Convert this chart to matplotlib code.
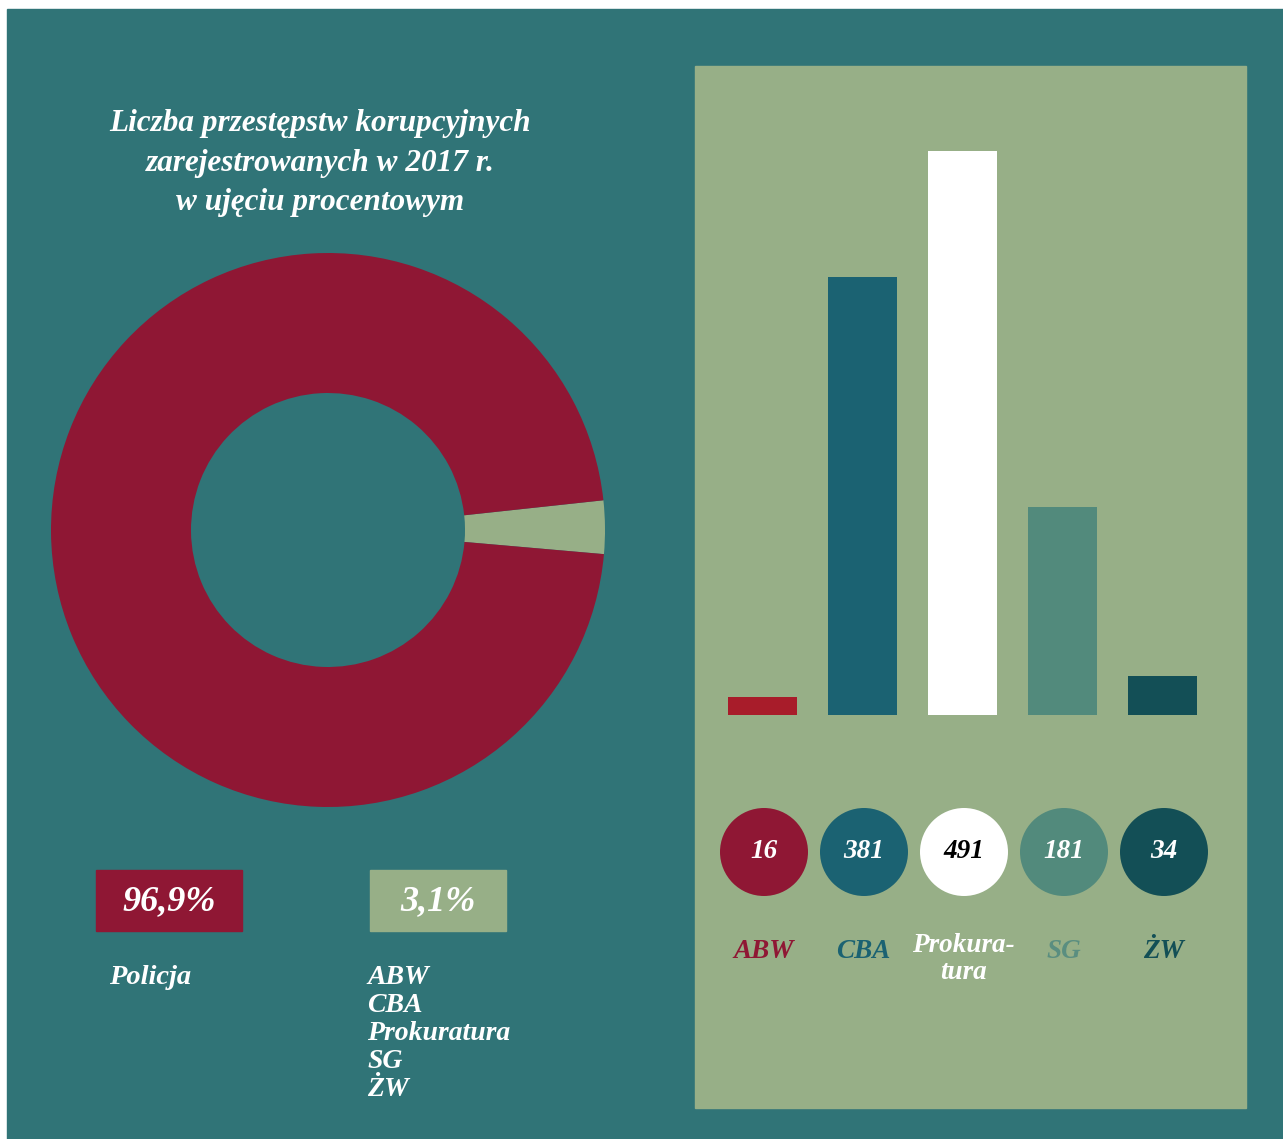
import numpy as np
import matplotlib.pyplot as plt
from matplotlib.patches import Rectangle

# data
share_labels = ['Policja', 'pozostałe']
share_values = [96.9, 3.1]
share_text = ['96,9%', '3,1%']
other_units = ['ABW', 'CBA', 'Prokuratura', 'SG', 'ŻW']
bar_labels = ['ABW', 'CBA', 'Prokura-\ntura', 'SG', 'ŻW']
bar_values = [16, 381, 491, 181, 34]
title = 'Liczba przestępstw korupcyjnych\nzarejestrowanych w 2017 r.\nw ujęciu procentowym'

W, H = 1283, 1139
teal = '#307477'
crimson = '#8F1734'
sage = '#97AF87'
bar_colors = ['#A81C2A', '#1B6272', '#FFFFFF', '#528A7C', '#134F56']
circ_colors = [crimson, '#1B6272', '#FFFFFF', '#528A7C', '#134F56']
txt_colors = [crimson, '#1B6272', '#FFFFFF', '#5A8E80', '#134F56']
num_colors = ['white', 'white', 'black', 'white', 'white']

plt.rcParams['font.family'] = ['Liberation Serif', 'DejaVu Serif']
font = dict(fontweight='bold', fontstyle='italic')

fig = plt.figure(figsize=(W/100, H/100), dpi=100, facecolor='white')

def fx(px): return px / W
def fy(py): return 1 - py / H

# background panels
fig.patches.append(Rectangle((fx(7), 0), 1 - fx(7), fy(9), transform=fig.transFigure,
                             color=teal, zorder=-2))
fig.patches.append(Rectangle((fx(695), fy(1108)), fx(1246-695), (1108-66)/H,
                             transform=fig.transFigure, color=sage, zorder=-1))

# title
fig.text(fx(320), fy(163), title, ha='center', va='center', color='white',
         fontsize=22.5, linespacing=1.48, **font)

# donut
cx, cy, r = 328, 530, 277
axp = fig.add_axes([fx(cx-r), fy(cy+r), 2*r/W, 2*r/H])
axp.pie(share_values[::-1], colors=[sage, crimson], startangle=-5, counterclock=True,
        radius=1, wedgeprops=dict(width=140/277, linewidth=0))
axp.set_xlim(-1, 1); axp.set_ylim(-1, 1)
axp.set_aspect('equal'); axp.axis('off')

# percentage boxes
boxes = [(96, 242, crimson), (370, 506, sage)]
for (x0, x1, c), t in zip(boxes, share_text):
    fig.patches.append(Rectangle((fx(x0), fy(931)), fx(x1-x0), 61/H,
                                 transform=fig.transFigure, color=c, zorder=1))
    fig.text(fx((x0+x1)/2), fy(902), t, ha='center', va='center', color='white',
             fontsize=26, **font)

fig.text(fx(109), fy(977), share_labels[0], ha='left', va='center', color='white',
         fontsize=20.5, **font)
for i, u in enumerate(other_units):
    fig.text(fx(367), fy(977 + 28*i), u, ha='left', va='center', color='white',
             fontsize=20, **font)

# bars
axb = fig.add_axes([fx(712), fy(715), fx(500), 564/H])
x = np.arange(len(bar_values))
axb.bar(x, bar_values, width=0.69, color=bar_colors)
axb.set_xlim(-0.5, 4.5); axb.set_ylim(0, 491)
axb.axis('off')

# circles with values
axc = fig.add_axes([fx(714), fy(900), fx(500), 96/H])
axc.scatter(x, np.zeros_like(x), s=(88*0.72)**2, c=circ_colors, linewidths=0)
axc.set_xlim(-0.5, 4.5); axc.set_ylim(-1, 1)
axc.axis('off')
for i, v in enumerate(bar_values):
    axc.text(x[i], 0, str(v), ha='center', va='center', color=num_colors[i],
             fontsize=19.5, **font)

# unit labels under circles
for i, lab in enumerate(bar_labels):
    ypx = 959 if '\n' in lab else 951
    fig.text(fx(763.5 + 100*i), fy(ypx), lab, ha='center', va='center',
             color=txt_colors[i], fontsize=19.5, linespacing=1.15, **font)

fig.savefig('out.png', dpi=100, facecolor=fig.get_facecolor())
